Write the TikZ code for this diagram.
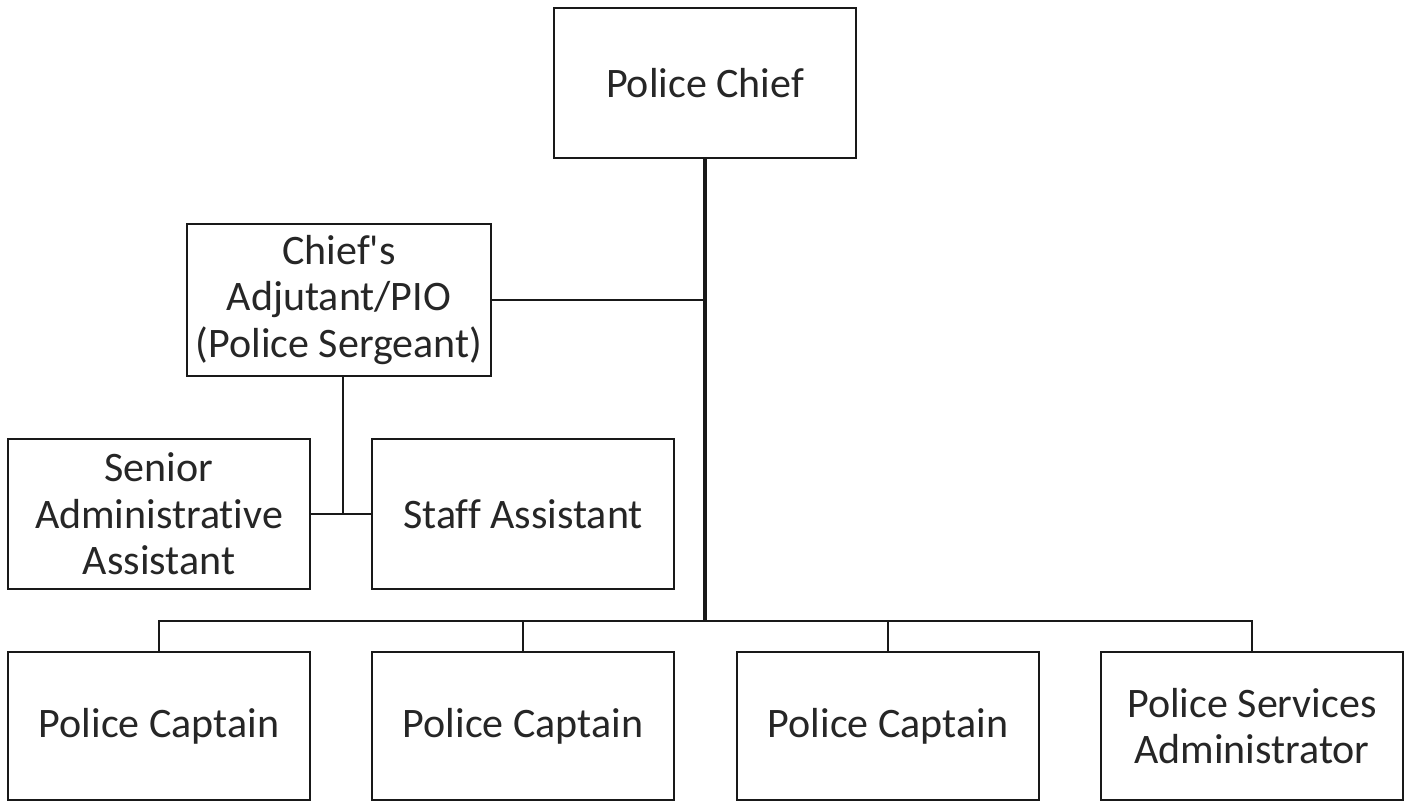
\documentclass[tikz,border=0pt]{standalone}
\usepackage{fontspec}
\setmainfont{Carlito}[Ligatures={NoCommon}]
\begin{document}
\begin{tikzpicture}[x=0.5pt,y=-0.5pt,
  box/.style={draw=black!90, line width=1.2pt, fill=white, minimum width=151pt, minimum height=75pt, inner sep=0pt, align=center, text=black!85, font=\fontsize{21}{23.3}\selectfont},
  conn/.style={draw=black!90, line width=1pt},
  mainconn/.style={draw=black!90, line width=1.8pt}]
\useasboundingbox (0,0) rectangle (1407,804);
\node[box, minimum height=75pt] (chief) at (705,83) {Police Chief};
\node[box, minimum width=152pt, minimum height=76pt] (adj) at (339,300) {Chief\textquotesingle s\\Adjutant/PIO\\(Police Sergeant)};
\node[box] (senior) at (159,514) {Senior\\Administrative\\Assistant};
\node[box] (staff) at (523,514) {Staff Assistant};
\node[box, minimum height=74pt] (cap1) at (159,726) {Police Captain};
\node[box, minimum height=74pt] (cap2) at (523,726) {Police Captain};
\node[box, minimum height=74pt] (cap3) at (888,726) {Police Captain};
\node[box, minimum height=74pt] (psa) at (1252,726) {Police Services\\Administrator};
\coordinate (bus) at (705,621);
\coordinate (adjdrop) at (343,514);
% chief to bus
\draw[mainconn] (chief.south) -- (bus);
% chief to adjutant
\draw[conn] (adj.east) -- (adj.east -| chief.south);
% bus to captains
\draw[conn] (cap1.north) -- (cap1.north |- bus) -- (psa.north |- bus) -- (psa.north);
\draw[conn] (cap2.north) -- (cap2.north |- bus);
\draw[conn] (cap3.north) -- (cap3.north |- bus);
% adjutant to assistants
\draw[conn] (adj.south -| adjdrop) -- (adjdrop);
\draw[conn] (senior.east) -- (staff.west);
\end{tikzpicture}
\end{document}
